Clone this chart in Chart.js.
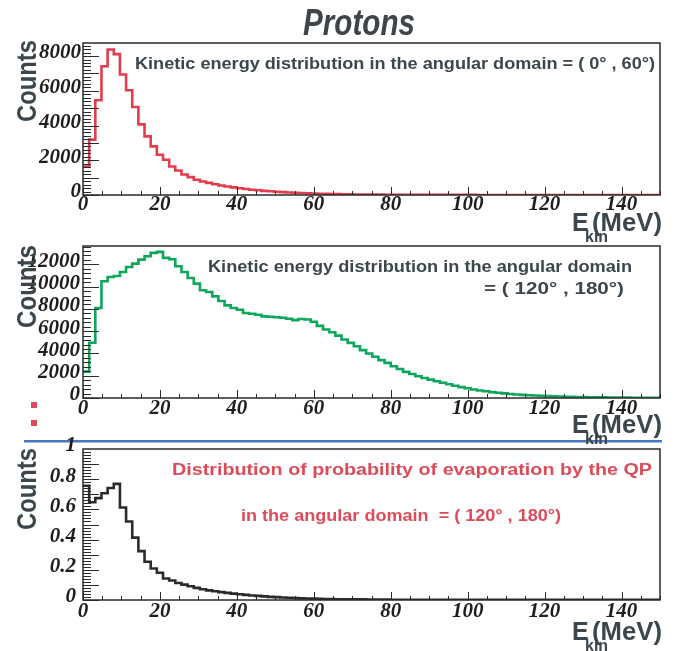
<!DOCTYPE html>
<html>
<head>
<meta charset="utf-8">
<script src="https://cdn.jsdelivr.net/npm/chart.js@4.4.1/dist/chart.umd.min.js"></script>
<style>
    html, body { margin: 0; padding: 0; background: #fff; }
    #wrap { position: relative; width: 687px; height: 651px; }
    #wrap canvas { position: absolute; left: 0; top: 0; }
</style>
</head>
<body>
<div id="wrap">
    <canvas id="forwardChart" width="687" height="651"></canvas>
    <canvas id="backwardChart" width="687" height="651"></canvas>
    <canvas id="probChart" width="687" height="651"></canvas>
</div>
<script>
// Histogram bins (MeV)
const BIN_WIDTH = 1.6;

// Counts per bin, angular domain (0°, 60°)
const forwardCounts = [
    1644, 3185, 5453, 7415, 8378, 8107, 6935, 6030, 5066, 4068,
    3376, 2798, 2319, 2030, 1644, 1413, 1182, 1028, 875, 780,
    700, 620, 550, 490, 440, 390, 345, 305, 270, 240,
    212, 188, 165, 145, 128, 112, 98, 86, 75, 65,
    57, 50, 44, 38, 33, 29, 25, 22, 19, 17,
    15, 13, 12, 11, 10, 9, 8, 7, 7, 6,
    6, 5, 5, 5, 4, 4, 4, 4, 3, 3,
    3, 3, 3, 3, 2, 2, 2, 2, 2, 2,
    2, 2, 2, 2, 1, 1, 1, 1, 1, 1,
    1, 1, 1, 1
];

// Counts per bin, angular domain (120°, 180°)
const backwardCounts = [
    2370, 4955, 8080, 10480, 10870, 10960, 11320, 11770, 12070, 12430,
    12730, 13030, 13120, 12580, 12460, 11830, 11320, 10780, 10270, 9670,
    9520, 9130, 8710, 8320, 8080, 7930, 7630, 7570, 7480, 7330,
    7300, 7250, 7200, 7120, 6990, 7090, 7050, 6850, 6480, 6150,
    5900, 5600, 5250, 4950, 4650, 4300, 4000, 3700, 3400, 3150,
    2850, 2600, 2350, 2150, 1950, 1800, 1650, 1500, 1370, 1230,
    1100, 980, 870, 770, 680, 600, 530, 470, 415, 365,
    320, 285, 250, 220, 195, 170, 150, 130, 115, 100,
    88, 78, 68, 60, 52, 46, 40, 35, 30, 26,
    23, 20, 17, 15
];

// Probability of evaporation by the QP, (120°, 180°)
const evapProb = [
    0.757, 0.647, 0.675, 0.707, 0.742, 0.769, 0.613, 0.520, 0.413, 0.324,
    0.253, 0.209, 0.180, 0.142, 0.129, 0.113, 0.102, 0.091, 0.080, 0.071,
    0.064, 0.058, 0.052, 0.047, 0.042, 0.038, 0.034, 0.030, 0.027, 0.024,
    0.021, 0.019, 0.017, 0.015, 0.013, 0.011, 0.010, 0.009, 0.008, 0.007,
    0.006, 0.005, 0.005, 0.004, 0.004, 0.004, 0.003, 0.003, 0.003, 0.003,
    0.002, 0.002, 0.002, 0.002, 0.002, 0.002, 0.002, 0.001, 0.001, 0.001,
    0.001, 0.001, 0.001, 0.001, 0.001, 0.001, 0.001, 0.001, 0.001, 0.001,
    0.001, 0.001, 0.001, 0.001, 0.001, 0.001, 0.001, 0.001, 0.001, 0.001,
    0.001, 0.001, 0.001, 0.001, 0.001, 0.001, 0.001, 0.001, 0.001, 0.001,
    0.001, 0.001, 0.001, 0.001
];

// Tick labels
const xTickValues = [0, 20, 40, 60, 80, 100, 120, 140];
const forwardYTicks = [0, 2000, 4000, 6000, 8000];
const backwardYTicks = [0, 2000, 4000, 6000, 8000, 10000, 12000];
const probYTicks = [0, 0.2, 0.4, 0.6, 0.8, 1];

const TEXT_DARK = '#3b474c';
const TEXT_RED = '#dc4b5a';

// Bin edges -> step points (last edge closes the final bin)
function toSteps(values) {
    const pts = values.map((v, i) => ({ x: i * BIN_WIDTH, y: v }));
    pts.push({ x: values.length * BIN_WIDTH, y: values[values.length - 1] });
    return pts;
}

function drawText(ctx, t) {
    ctx.save();
    ctx.font = t.font;
    ctx.fillStyle = t.color;
    ctx.textBaseline = 'alphabetic';
    const w = ctx.measureText(t.text).width;
    const sx = t.width ? t.width / w : 1;
    ctx.translate(t.x, t.y);
    if (t.rotate) ctx.rotate(t.rotate);
    ctx.scale(sx, 1);
    ctx.fillText(t.text, 0, 0);
    ctx.restore();
}

// ROOT-like frame with inward ticks
const rootFrame = {
    id: 'rootFrame',
    afterDatasetsDraw(chart, args, opts) {
        const { ctx, chartArea: a, scales: { x, y } } = chart;
        ctx.save();
        ctx.strokeStyle = '#2a2a2a';
        ctx.lineWidth = 1.5;
        ctx.strokeRect(a.left, a.top, a.right - a.left, a.bottom - a.top);

        ctx.lineWidth = 1;
        ctx.beginPath();
        const nY = Math.round(y.max / opts.yMinor);
        for (let i = 0; i <= nY; i++) {
            const v = i * opts.yMinor;
            const p = Math.round(y.getPixelForValue(v)) + 0.5;
            if (p < a.top + 1) continue;
            const isMajor = i % opts.yEvery === 0;
            ctx.moveTo(a.left, p);
            ctx.lineTo(a.left + (isMajor ? 16 : 8), p);
        }
        const nX = Math.round(x.max / 5);
        for (let i = 0; i <= nX; i++) {
            const p = Math.round(x.getPixelForValue(i * 5)) + 0.5;
            ctx.moveTo(p, a.bottom);
            ctx.lineTo(p, a.bottom - (i % 4 === 0 ? 8 : 4));
        }
        ctx.stroke();
        ctx.restore();
    }
};

const textLayer = {
    id: 'textLayer',
    afterDraw(chart, args, opts) {
        const { ctx } = chart;
        (opts.shapes || []).forEach(s => {
            ctx.save();
            ctx.fillStyle = s.color;
            ctx.fillRect(s.x, s.y, s.w, s.h);
            ctx.restore();
        });
        (opts.items || []).forEach(t => drawText(ctx, t));
    }
};

function ekinLabel(baseline) {
    return [
        { text: 'E', x: 572, y: baseline, font: 'bold 25px "Liberation Sans"', color: TEXT_DARK },
        { text: 'kin', x: 585, y: baseline + 11, font: 'bold 16px "Liberation Sans"', color: TEXT_DARK },
        { text: '(MeV)', x: 592, y: baseline, width: 70, font: 'bold 25px "Liberation Sans"', color: TEXT_DARK }
    ];
}

function countsLabel(bottom, top) {
    return { text: 'Counts', x: 36, y: bottom, width: bottom - top, rotate: -Math.PI / 2,
             font: 'bold 27px "Liberation Sans"', color: TEXT_DARK };
}

function createPanel(canvasId, cfg) {
    const ctx = document.getElementById(canvasId).getContext('2d');
    const tickFont = { family: '"Liberation Serif"', style: 'italic', weight: 'bold', size: 21, lineHeight: 1 };

    return new Chart(ctx, {
        type: 'line',
        data: {
            datasets: [{
                data: toSteps(cfg.values),
                borderColor: cfg.color,
                borderWidth: 2.6,
                pointRadius: 0,
                stepped: 'before',
                fill: false
            }]
        },
        options: {
            responsive: false,
            animation: false,
            events: [],
            layout: {
                padding: { top: cfg.area.top, left: 0, right: 687 - cfg.area.right, bottom: 651 - cfg.area.bottom - 30 }
            },
            plugins: {
                legend: { display: false },
                tooltip: { enabled: false },
                rootFrame: { yMinor: cfg.yMinor, yEvery: cfg.yEvery },
                textLayer: { items: cfg.texts, shapes: cfg.shapes || [] }
            },
            scales: {
                x: {
                    type: 'linear',
                    min: 0,
                    max: 150,
                    afterBuildTicks: scale => { scale.ticks = xTickValues.map(v => ({ value: v })); },
                    afterFit: scale => { scale.height = 30; },
                    grid: { display: false, drawTicks: false },
                    border: { display: false },
                    ticks: {
                        font: tickFont,
                        color: '#1e1e1e',
                        padding: cfg.xPad,
                        maxRotation: 0,
                        autoSkip: false
                    }
                },
                y: {
                    type: 'linear',
                    min: 0,
                    max: cfg.yMax,
                    afterBuildTicks: scale => { scale.ticks = cfg.yTicks.map(v => ({ value: v })); },
                    afterFit: scale => { scale.width = cfg.area.left; },
                    grid: { display: false, drawTicks: false },
                    border: { display: false },
                    ticks: {
                        font: tickFont,
                        color: '#1e1e1e',
                        padding: cfg.yPad,
                        labelOffset: -3,
                        autoSkip: false,
                        callback: v => String(v)
                    }
                }
            }
        },
        plugins: [rootFrame, textLayer]
    });
}

document.addEventListener('DOMContentLoaded', () => {
    createPanel('forwardChart', {
        values: forwardCounts,
        color: '#e23d4d',
        area: { left: 83, right: 660, top: 43, bottom: 195 },
        yMax: 8750,
        yTicks: forwardYTicks,
        yMinor: 200,
        yEvery: 5,
        xPad: -1,
        yPad: 2,
        texts: [
            { text: 'Protons', x: 303, y: 35, width: 112, font: 'italic bold 37px "Liberation Sans"', color: '#3d4548' },
            { text: 'Kinetic energy distribution in the angular domain = ( 0° , 60°)', x: 135, y: 69, width: 520,
              font: 'bold 16px "Liberation Sans"', color: TEXT_DARK },
            countsLabel(122, 40),
            ...ekinLabel(231)
        ]
    });

    createPanel('backwardChart', {
        values: backwardCounts,
        color: '#0ea65a',
        area: { left: 83, right: 660, top: 246, bottom: 398 },
        yMax: 13650,
        yTicks: backwardYTicks,
        yMinor: 400,
        yEvery: 5,
        xPad: 0,
        yPad: 3,
        texts: [
            { text: 'Kinetic energy distribution in the angular domain', x: 208, y: 272, width: 424,
              font: 'bold 16px "Liberation Sans"', color: TEXT_DARK },
            { text: '= ( 120° , 180°)', x: 484, y: 294, width: 140,
              font: 'bold 16px "Liberation Sans"', color: TEXT_DARK },
            countsLabel(328, 245),
            ...ekinLabel(433)
        ],
        shapes: [
            { x: 31, y: 402, w: 6, h: 6, color: TEXT_RED },
            { x: 31, y: 420, w: 6, h: 6, color: TEXT_RED },
            { x: 24, y: 440, w: 638, h: 2.5, color: '#4a76be' }
        ]
    });

    createPanel('probChart', {
        values: evapProb,
        color: '#2b2b2b',
        area: { left: 83, right: 660, top: 449, bottom: 600 },
        yMax: 1,
        yTicks: probYTicks,
        yMinor: 0.02,
        yEvery: 5,
        xPad: 1,
        yPad: 7,
        texts: [
            { text: 'Distribution of probability of evaporation by the QP', x: 172, y: 475, width: 480,
              font: 'bold 16px "Liberation Sans"', color: TEXT_RED },
            { text: 'in the angular domain  = ( 120° , 180°)', x: 241, y: 521, width: 320,
              font: 'bold 16px "Liberation Sans"', color: TEXT_RED },
            countsLabel(530, 448),
            ...ekinLabel(640)
        ]
    });
});
</script>
</body>
</html>
